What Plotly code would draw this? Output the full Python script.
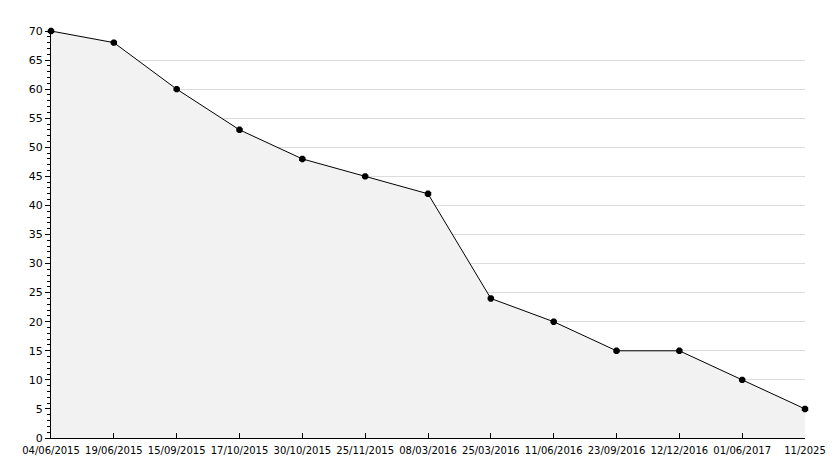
import plotly.graph_objects as go

# Data
dates = [
    "04/06/2015", "19/06/2015", "15/09/2015", "17/10/2015", "30/10/2015",
    "25/11/2015", "08/03/2016", "25/03/2016", "11/06/2016", "23/09/2016",
    "12/12/2016", "01/06/2017", "11/2025",
]
values = [70, 68, 60, 53, 48, 45, 42, 24, 20, 15, 15, 10, 5]

FONT = dict(family="DejaVu Sans", size=11, color="#000000")
XFONT = dict(family="DejaVu Sans", size=10, color="#000000")

figure = go.Figure(go.Scatter(
    x=list(range(len(dates))),
    y=values,
    mode="lines+markers",
    line=dict(color="#000000", width=1),
    marker=dict(symbol="octagon", size=7, color="#000000"),
    fill="tozeroy",
    fillcolor="#f2f2f2",
    cliponaxis=False,
    hoverinfo="skip",
))

# page body adds an 8px margin, so the figure is 8px smaller and margins shifted
figure.update_layout(
    width=826, height=460,
    paper_bgcolor="#ffffff",
    plot_bgcolor="#ffffff",
    font=FONT,
    showlegend=False,
    margin=dict(l=43, r=29, t=23, b=30),
)

figure.update_xaxes( # category axis, ticks point up into the plot
    tickmode="array",
    tickvals=list(range(len(dates))),
    ticktext=dates,
    tickangle=0,
    ticklabelstandoff=3,
    range=[0, len(dates) - 1],
    automargin=False,
    showgrid=False,
    zeroline=False,
    showline=True,
    linecolor="#000000",
    linewidth=1,
    ticks="inside",
    ticklen=5,
    tickcolor="#000000",
    tickfont=XFONT,
)

figure.update_yaxes( # value axis with minor ticks every 1
    range=[0, 70],
    dtick=5,
    automargin=False,
    showgrid=True,
    gridcolor="#dcdcdc",
    gridwidth=1,
    zeroline=False,
    showline=True,
    linecolor="#000000",
    linewidth=1,
    ticks="outside",
    ticklen=5,
    tickcolor="#000000",
    tickfont=FONT,
    minor=dict(dtick=1, ticks="outside", ticklen=3, tickcolor="#000000", showgrid=False),
)

figure.write_html("out.html")
